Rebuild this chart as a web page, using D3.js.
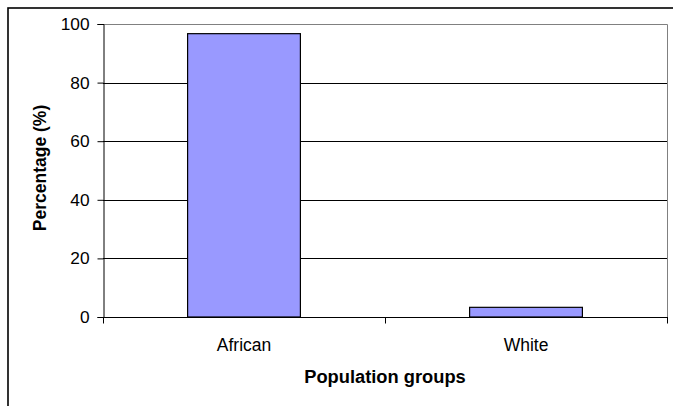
<!DOCTYPE html>
<html>
<head>
<meta charset="utf-8">
<script src="https://cdn.jsdelivr.net/npm/d3@7/dist/d3.min.js"></script>
<style>
  html, body { margin: 0; padding: 0; background: #fff; }
  svg { display: block; }
  text { font-family: "Liberation Sans", Arial, sans-serif; fill: #000; }
</style>
</head>
<body>
<svg id="chart" width="673" height="406"></svg>
<script>
// Share of respondents by population group
const categories = ["African", "White"];
const percentages = [96.7, 3.3];
const yTicks = [0, 20, 40, 60, 80, 100];
const xTitle = "Population groups";
const yTitle = "Percentage (%)";

const W = 673, H = 406;
const plot = { left: 103, right: 667, top: 24, bottom: 317 };

const svg = d3.select("#chart");

// outer chart frame (runs past the right and bottom edges)
svg.append("rect")
  .attr("x", 8).attr("y", 8)
  .attr("width", W + 20).attr("height", H + 20)
  .attr("fill", "none").attr("stroke", "#000").attr("stroke-width", 1.6);

const x = d3.scaleBand()
  .domain(categories)
  .range([plot.left, plot.right])
  .paddingInner(0.6)
  .paddingOuter(0.3);

const xGroup = d3.scaleBand()
  .domain(categories)
  .range([plot.left, plot.right]);

const y = d3.scaleLinear()
  .domain([0, 100])
  .range([plot.bottom, plot.top]);

// plot area border (top and right in grey)
svg.append("path")
  .attr("d", `M${plot.left},${plot.top + 0.5}H${plot.right + 0.5}V${plot.bottom}`)
  .attr("fill", "none").attr("stroke", "#808080").attr("stroke-width", 1);

// horizontal gridlines
svg.append("g")
  .selectAll("line")
  .data(yTicks.filter(d => d > 0 && d < 100))
  .join("line")
  .attr("x1", plot.left).attr("x2", plot.right)
  .attr("y1", d => Math.round(y(d)) + 0.5).attr("y2", d => Math.round(y(d)) + 0.5)
  .attr("stroke", "#000").attr("stroke-width", 1);

// bars
svg.append("g")
  .selectAll("rect")
  .data(categories.map((c, i) => ({ c, v: percentages[i] })))
  .join("rect")
  .attr("x", d => x(d.c))
  .attr("y", d => y(d.v))
  .attr("width", x.bandwidth())
  .attr("height", d => y(0) - y(d.v))
  .attr("fill", "#9999FF")
  .attr("stroke", "#000").attr("stroke-width", 1.2);

// y axis
const yAxis = svg.append("g")
  .attr("transform", `translate(${plot.left + 0.5},0)`)
  .call(d3.axisLeft(y).tickValues(yTicks).tickSize(6).tickPadding(8).tickFormat(d3.format("d")));
yAxis.select(".domain").attr("stroke", "#000");
yAxis.selectAll(".tick line").attr("stroke", "#000");
yAxis.selectAll(".tick text")
  .style("font-family", "'Liberation Sans', Arial, sans-serif")
  .style("font-size", "17.3px").attr("fill", "#000");

// x axis with ticks at category boundaries
const xAxisG = svg.append("g")
  .attr("transform", `translate(0,${plot.bottom + 0.5})`);
xAxisG.append("line")
  .attr("x1", plot.left).attr("x2", plot.right + 1)
  .attr("stroke", "#000");
const bounds = categories.map(c => xGroup(c)).concat([xGroup(categories[categories.length - 1]) + xGroup.bandwidth()]);
xAxisG.selectAll("line.bound")
  .data(bounds)
  .join("line")
  .attr("class", "bound")
  .attr("x1", d => Math.round(d) + 0.5).attr("x2", d => Math.round(d) + 0.5)
  .attr("y1", 0).attr("y2", 6)
  .attr("stroke", "#000");
xAxisG.selectAll("text")
  .data(categories)
  .join("text")
  .attr("x", d => xGroup(d) + xGroup.bandwidth() / 2)
  .attr("y", 33)
  .attr("text-anchor", "middle")
  .style("font-size", "17.5px")
  .text(d => d);

// axis titles
svg.append("text")
  .attr("x", (plot.left + plot.right) / 2)
  .attr("y", 383)
  .attr("text-anchor", "middle")
  .style("font-size", "18.3px").style("font-weight", "bold")
  .text(xTitle);

svg.append("text")
  .attr("transform", `translate(46,168) rotate(-90)`)
  .attr("text-anchor", "middle")
  .style("font-size", "17.5px").style("font-weight", "bold")
  .text(yTitle);
</script>
</body>
</html>
